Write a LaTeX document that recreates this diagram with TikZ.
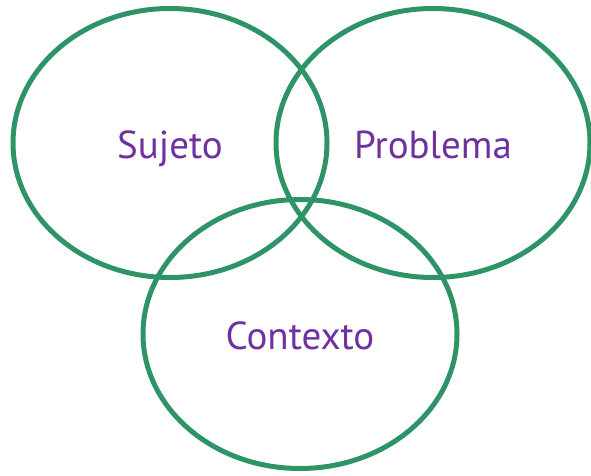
\documentclass[tikz,border=0pt]{standalone}
\usepackage{fontspec}
\setmainfont{PT Sans}
\usetikzlibrary{shapes.geometric}
\definecolor{vennGreen}{RGB}{46,148,104}
\definecolor{vennPurple}{RGB}{112,48,160}
\tikzset{
    vennset/.style={ellipse, draw=vennGreen, line width=5pt,
        minimum width=314pt, minimum height=269pt, inner sep=0pt, outer sep=0pt,
        text height=30pt, text depth=0pt,
        text=vennPurple, font=\fontsize{39}{44}\selectfont}
}
\begin{document}
\begin{tikzpicture}[x=1pt,y=-1pt]
    \useasboundingbox (0,0) rectangle (591,476);
\foreach \v/\x/\y/\t in
{nSujeto/170/143/Sujeto,
    nProblema/433/143/Problema,
    nContexto/300/334/Contexto
}
{
    \node[vennset] (\v) at (\x,\y) {\t};
};

\end{tikzpicture}
\end{document}
